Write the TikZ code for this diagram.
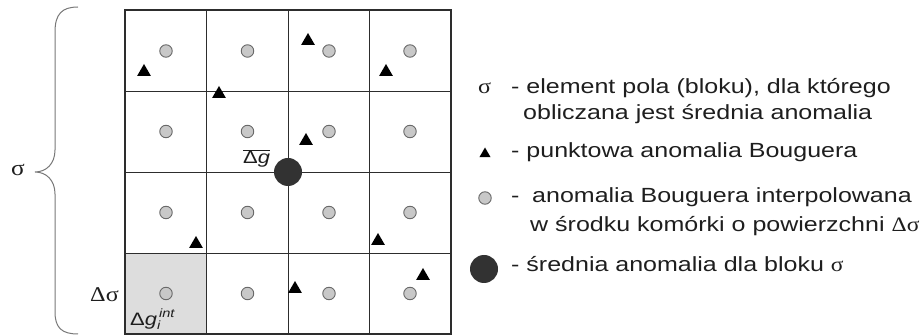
\documentclass[tikz,border=0pt]{standalone}
\usepackage{fontspec}
\setmainfont{Liberation Sans}
\newfontfamily\lsans{Liberation Sans}[FakeStretch=1.22]
\newfontfamily\lserif{Liberation Serif}[FakeStretch=1.15]
\usetikzlibrary{shapes.geometric}
\definecolor{gridcol}{RGB}{45,45,45}
\definecolor{txtcol}{RGB}{30,30,30}
\definecolor{cellgray}{RGB}{221,221,221}
\definecolor{dotgray}{RGB}{200,200,200}
\definecolor{dotedge}{RGB}{105,105,105}
\definecolor{meandot}{RGB}{50,50,50}
\definecolor{bracecol}{RGB}{120,120,120}
\begin{document}
\begin{tikzpicture}[x=1pt,y=-1pt,
  gdot/.style={circle,fill=dotgray,draw=dotedge,line width=0.9pt,minimum size=12.5pt,inner sep=0pt},
  tri/.style={regular polygon,regular polygon sides=3,fill=black,minimum size=16pt,inner sep=0pt},
  meanpt/.style={circle,fill=meandot,minimum size=28pt,inner sep=0pt},
  legtxt/.style={anchor=base west,inner sep=0pt,text=txtcol,font=\fontsize{20.5}{24}\selectfont\lsans},
  lbl/.style={inner sep=0pt,text=txtcol}]
\useasboundingbox (0,0) rectangle (924,336);
% shaded cell
\fill[cellgray] (125,253) rectangle (206.5,334);
% inner grid
\foreach \x in {206.5,288,369.5} \draw[gridcol,line width=0.9pt] (\x,10) -- (\x,334);
\foreach \y in {91,172,253} \draw[gridcol,line width=0.9pt] (125,\y) -- (451,\y);
\draw[gridcol,line width=0.9pt] (125,253) rectangle (206.5,334);
\draw[gridcol,line width=1.6pt] (125,10) rectangle (451,334);
% interpolated points
\foreach \c/\x in {1/166,2/247.5,3/329,4/410}
  \foreach \r/\y in {1/51,2/131.5,3/212.5,4/293.5}
    \node[gdot] (c\r\c) at (\x,\y) {};
% point anomalies
\node[tri] (t1) at (144,72) {};
\node[tri] (t2) at (308,41) {};
\node[tri] (t3) at (386,72) {};
\node[tri] (t4) at (219,94) {};
\node[tri] (t5) at (306,141) {};
\node[tri] (t6) at (196,244) {};
\node[tri] (t7) at (378,241) {};
\node[tri] (t8) at (423,276) {};
\node[tri] (t9) at (295,289) {};
% mean
\node[meanpt] (mean) at (288,172) {};
\node[lbl,anchor=base west,font=\fontsize{18}{20}\selectfont\lsans] (gbar) at (243,164)
  {$\overline{\mbox{\lsans Δ\textit{g}}}$};
% labels
\node[lbl,anchor=base west,font=\fontsize{18}{20}\selectfont\lsans] (gint) at (130,326)
  {Δ\textit{g}\rlap{\raisebox{-4pt}{\fontsize{12}{12}\selectfont\itshape i}}\raisebox{8pt}{\fontsize{12}{12}\selectfont\itshape\,int}};
\node[lbl,font=\fontsize{21}{24}\selectfont\lserif] (dsig) at (104.5,295) {Δσ};
\node[lbl,font=\fontsize{22}{24}\selectfont\lserif] (sig) at (18,170) {σ};
% brace
\draw[bracecol,line width=1pt] (78,7) .. controls (62,7) and (55,14) .. (55,32) -- (55,150)
  .. controls (55,164) and (46,172) .. (35,172)
  .. controls (46,172) and (55,180) .. (55,194) -- (55,312)
  .. controls (55,328) and (62,334) .. (78,334);
% legend
\node[lbl,anchor=base west,font=\fontsize{21}{24}\selectfont\lserif] (lsig) at (478,94) {σ};
\node[legtxt] (l1a) at (511,94) {- element pola (bloku), dla którego};
\node[legtxt] (l1b) at (523,120) {obliczana jest średnia anomalia};
\node[tri,minimum size=13pt] (ltri) at (485,154) {};
\node[legtxt] (l2) at (511,158) {- punktowa anomalia Bouguera};
\node[gdot] (lcirc) at (485,198) {};
\node[legtxt] (l3d) at (511,203) {-};
\node[legtxt] (l3a) at (532,203) {anomalia Bouguera interpolowana};
\node[legtxt] (l3b) at (530,232) {w środku komórki o powierzchni {\lserif Δσ}};
\node[meanpt] (lmean) at (484,269) {};
\node[legtxt] (l4) at (511,272) {- średnia anomalia dla bloku {\lserif σ}};
\end{tikzpicture}
\end{document}
